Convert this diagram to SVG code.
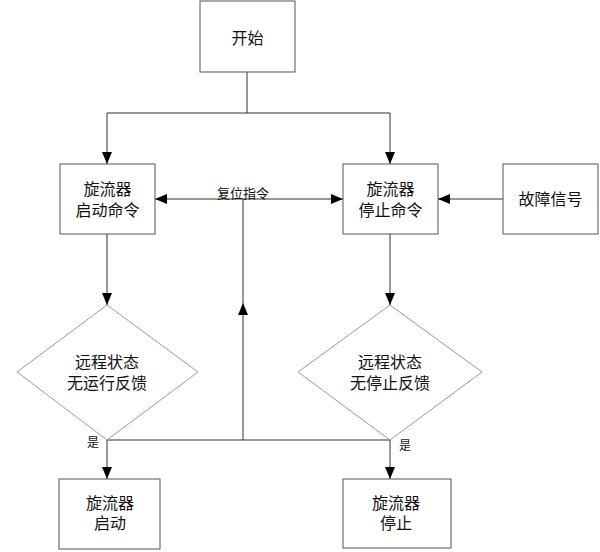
<svg xmlns="http://www.w3.org/2000/svg" width="600" height="552" viewBox="0 0 600 552">
<style>
.box{fill:#fff;stroke:#555;stroke-width:1}
.dia{fill:#fff;stroke:#999;stroke-width:1}
.ln{fill:none;stroke:#333;stroke-width:1}
text{font-family:"Liberation Serif","Noto Sans CJK SC",serif;font-size:16px;fill:#111;text-anchor:middle}
.sm{font-size:13px}
.xs{font-size:12px}
</style>
<defs>
<marker id="ar" viewBox="0 0 12 10" refX="12" refY="5" markerWidth="12" markerHeight="10" markerUnits="userSpaceOnUse" orient="auto-start-reverse">
<path d="M0,0 L12,5 L0,10 z" fill="#000"/>
</marker>
</defs>
<rect width="600" height="552" fill="#fff"/>
<g id="connectors">
<line class="ln" x1="247" y1="72" x2="247" y2="113"/>
<line class="ln" x1="107" y1="113" x2="390" y2="113"/>
<line class="ln" x1="107" y1="113" x2="107" y2="164" marker-end="url(#ar)"/>
<line class="ln" x1="390" y1="113" x2="390" y2="164" marker-end="url(#ar)"/>
<line class="ln" x1="107" y1="234" x2="107" y2="305" marker-end="url(#ar)"/>
<line class="ln" x1="390" y1="234" x2="390" y2="305" marker-end="url(#ar)"/>
<line class="ln" x1="155" y1="199" x2="343" y2="199" marker-start="url(#ar)" marker-end="url(#ar)"/>
<line class="ln" x1="243" y1="440" x2="243" y2="303" marker-end="url(#ar)"/>
<line class="ln" x1="243" y1="303" x2="243" y2="199"/>
<line class="ln" x1="503" y1="199" x2="438" y2="199" marker-end="url(#ar)"/>
<line class="ln" x1="107" y1="440" x2="390" y2="440"/>
<line class="ln" x1="107" y1="440" x2="107" y2="479" marker-end="url(#ar)"/>
<line class="ln" x1="390" y1="440" x2="390" y2="479" marker-end="url(#ar)"/>
<text class="sm" x="243" y="197.5">复位指令</text>
<text class="xs" x="93" y="447">是</text>
<text class="xs" x="405" y="450">是</text>
</g>
<g id="start">
<rect class="box" x="200" y="1" width="95" height="71"/>
<text x="247.5" y="43.5">开始</text>
</g>
<g id="startCmd">
<rect class="box" x="60" y="164" width="95" height="70"/>
<text x="107.5" y="194.5">旋流器</text>
<text x="107.5" y="215.5">启动命令</text>
</g>
<g id="stopCmd">
<rect class="box" x="343" y="164" width="95" height="70"/>
<text x="390.5" y="194.5">旋流器</text>
<text x="390.5" y="215.5">停止命令</text>
</g>
<g id="fault">
<rect class="box" x="503" y="164" width="95" height="70"/>
<text x="550.5" y="205">故障信号</text>
</g>
<g id="runCheck">
<polygon class="dia" points="107,305 198,372 107,440 17,372"/>
<text x="107" y="367.5">远程状态</text>
<text x="107" y="388.5">无运行反馈</text>
</g>
<g id="stopCheck">
<polygon class="dia" points="390,305 482,372 390,440 298,372"/>
<text x="390" y="367.5">远程状态</text>
<text x="390" y="388.5">无停止反馈</text>
</g>
<g id="started">
<rect class="box" x="59" y="479" width="101" height="70"/>
<text x="110" y="508.5">旋流器</text>
<text x="110" y="528.5">启动</text>
</g>
<g id="stopped">
<rect class="box" x="343" y="479" width="108" height="69"/>
<text x="396" y="508.5">旋流器</text>
<text x="396" y="528.5">停止</text>
</g>
</svg>
